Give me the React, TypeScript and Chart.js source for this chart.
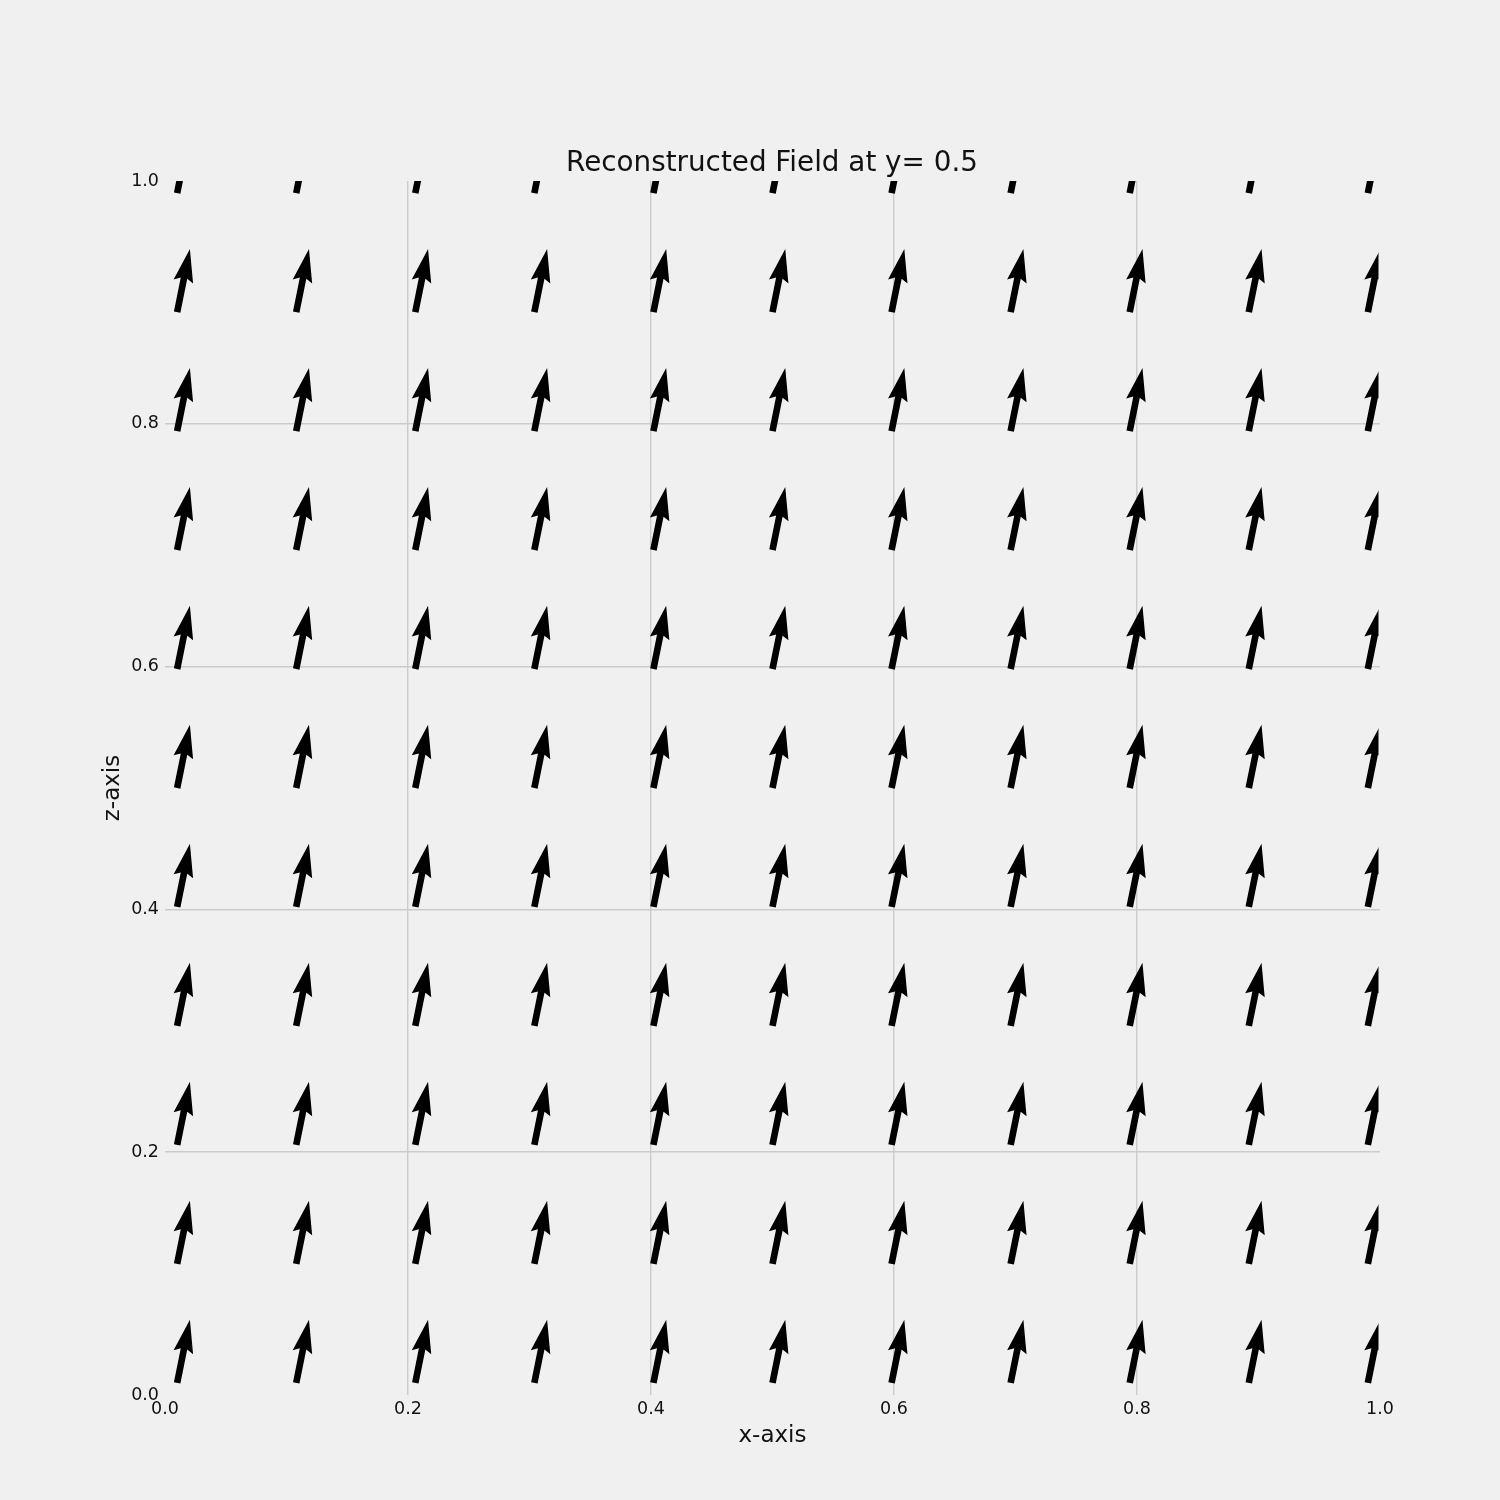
import React, { useEffect, useRef } from "react";
import { Chart, registerables } from "chart.js";

Chart.register(...registerables);

// Grid positions (tails of the arrows)
const xGrid = [0.01, 0.108, 0.206, 0.304, 0.402, 0.5, 0.598, 0.696, 0.794, 0.892, 0.99];
const zGrid = [0.01, 0.108, 0.206, 0.304, 0.402, 0.5, 0.598, 0.696, 0.794, 0.892, 0.99];

// Field components (rows = z, columns = x), in data units
const uField = [
  [0.0105, 0.0105, 0.0105, 0.0105, 0.0105, 0.0105, 0.0105, 0.0105, 0.0105, 0.0105, 0.0105],
  [0.0105, 0.0105, 0.0105, 0.0105, 0.0105, 0.0105, 0.0105, 0.0105, 0.0105, 0.0105, 0.0105],
  [0.0105, 0.0105, 0.0105, 0.0105, 0.0105, 0.0105, 0.0105, 0.0105, 0.0105, 0.0105, 0.0105],
  [0.0105, 0.0105, 0.0105, 0.0105, 0.0105, 0.0105, 0.0105, 0.0105, 0.0105, 0.0105, 0.0105],
  [0.0105, 0.0105, 0.0105, 0.0105, 0.0105, 0.0105, 0.0105, 0.0105, 0.0105, 0.0105, 0.0105],
  [0.0105, 0.0105, 0.0105, 0.0105, 0.0105, 0.0105, 0.0105, 0.0105, 0.0105, 0.0105, 0.0105],
  [0.0105, 0.0105, 0.0105, 0.0105, 0.0105, 0.0105, 0.0105, 0.0105, 0.0105, 0.0105, 0.0105],
  [0.0105, 0.0105, 0.0105, 0.0105, 0.0105, 0.0105, 0.0105, 0.0105, 0.0105, 0.0105, 0.0105],
  [0.0105, 0.0105, 0.0105, 0.0105, 0.0105, 0.0105, 0.0105, 0.0105, 0.0105, 0.0105, 0.0105],
  [0.0105, 0.0105, 0.0105, 0.0105, 0.0105, 0.0105, 0.0105, 0.0105, 0.0105, 0.0105, 0.0105],
  [0.0105, 0.0105, 0.0105, 0.0105, 0.0105, 0.0105, 0.0105, 0.0105, 0.0105, 0.0105, 0.0105],
];
const wField = [
  [0.052, 0.052, 0.052, 0.052, 0.052, 0.052, 0.052, 0.052, 0.052, 0.052, 0.052],
  [0.052, 0.052, 0.052, 0.052, 0.052, 0.052, 0.052, 0.052, 0.052, 0.052, 0.052],
  [0.052, 0.052, 0.052, 0.052, 0.052, 0.052, 0.052, 0.052, 0.052, 0.052, 0.052],
  [0.052, 0.052, 0.052, 0.052, 0.052, 0.052, 0.052, 0.052, 0.052, 0.052, 0.052],
  [0.052, 0.052, 0.052, 0.052, 0.052, 0.052, 0.052, 0.052, 0.052, 0.052, 0.052],
  [0.052, 0.052, 0.052, 0.052, 0.052, 0.052, 0.052, 0.052, 0.052, 0.052, 0.052],
  [0.052, 0.052, 0.052, 0.052, 0.052, 0.052, 0.052, 0.052, 0.052, 0.052, 0.052],
  [0.052, 0.052, 0.052, 0.052, 0.052, 0.052, 0.052, 0.052, 0.052, 0.052, 0.052],
  [0.052, 0.052, 0.052, 0.052, 0.052, 0.052, 0.052, 0.052, 0.052, 0.052, 0.052],
  [0.052, 0.052, 0.052, 0.052, 0.052, 0.052, 0.052, 0.052, 0.052, 0.052, 0.052],
  [0.052, 0.052, 0.052, 0.052, 0.052, 0.052, 0.052, 0.052, 0.052, 0.052, 0.052],
];

const xTicks = [0, 0.2, 0.4, 0.6, 0.8, 1.0];
const zTicks = [0, 0.2, 0.4, 0.6, 0.8, 1.0];

const titleText = "Reconstructed Field at y= 0.5";
const xLabel = "x-axis";
const zLabel = "z-axis";

const FONT = "'DejaVu Sans', 'Liberation Sans', sans-serif";
const TEXT = "#111111";
const GRID = "#cbcbcb";
const BG = "#f0f0f0";

type Vec = { x: number; y: number; u: number; w: number };

const quiverPlugin = {
  id: "quiver",
  afterDatasetsDraw(chart: any) {
    const { ctx, chartArea, scales } = chart;
    const xs = scales.x;
    const ys = scales.y;
    const data: Vec[] = chart.data.datasets[0].data;
    const shaft = (0.06 * (chartArea.right - chartArea.left)) / 11;
    const headW = 3 * shaft;
    const headL = 5 * shaft;
    const headAxL = 4.5 * shaft;
    ctx.save();
    ctx.beginPath();
    ctx.rect(chartArea.left, chartArea.top, chartArea.right - chartArea.left - 1.5, chartArea.bottom - chartArea.top);
    ctx.clip();
    ctx.fillStyle = "#000000";
    for (const p of data) {
      const x0 = xs.getPixelForValue(p.x);
      const y0 = ys.getPixelForValue(p.y);
      const x1 = xs.getPixelForValue(p.x + p.u);
      const y1 = ys.getPixelForValue(p.y + p.w);
      const dx = x1 - x0;
      const dy = y1 - y0;
      const L = Math.hypot(dx, dy);
      if (L === 0) continue;
      const ax = dx / L;
      const ay = dy / L;
      const nx = -ay;
      const ny = ax;
      const pt = (s: number, t: number): [number, number] => [x0 + ax * s + nx * t, y0 + ay * s + ny * t];
      const pts = [
        pt(0, -shaft / 2),
        pt(L - headAxL, -shaft / 2),
        pt(L - headL, -headW / 2),
        pt(L, 0),
        pt(L - headL, headW / 2),
        pt(L - headAxL, shaft / 2),
        pt(0, shaft / 2),
      ];
      ctx.beginPath();
      ctx.moveTo(pts[0][0], pts[0][1]);
      for (let i = 1; i < pts.length; i++) ctx.lineTo(pts[i][0], pts[i][1]);
      ctx.closePath();
      ctx.fill();
    }
    ctx.restore();
  },
};

const gridColor = (c: any) => {
  const v = c.tick ? c.tick.value : null;
  if (v === 0 || v === 1) return "rgba(0,0,0,0)";
  return GRID;
};

export default function App() {
  const ref = useRef<HTMLCanvasElement | null>(null);

  useEffect(() => {
    document.body.style.margin = "0";
    document.body.style.background = BG;
    const points: Vec[] = [];
    zGrid.forEach((z, j) => {
      xGrid.forEach((x, i) => {
        points.push({ x, y: z, u: uField[j][i], w: wField[j][i] });
      });
    });

    const chart = new Chart(ref.current as HTMLCanvasElement, {
      type: "scatter",
      data: {
        datasets: [
          {
            label: "field",
            data: points as any,
            pointRadius: 0,
            pointHoverRadius: 0,
            showLine: false,
          },
        ],
      },
      options: {
        animation: false,
        responsive: false,
        devicePixelRatio: 1,
        events: [],
        layout: { padding: { left: 44, right: 0, top: 0, bottom: 0 } },
        plugins: {
          legend: { display: false },
          tooltip: { enabled: false },
          title: {
            display: true,
            text: titleText,
            color: TEXT,
            font: { family: FONT, size: 27.8, weight: "normal" as any },
            padding: { top: 147, bottom: 0.6 },
          },
        },
        scales: {
          x: {
            type: "linear",
            position: "bottom",
            min: 0,
            max: 1,
            afterFit: (s: any) => {
              s.height = 105;
            },
            afterBuildTicks: (s: any) => {
              s.ticks = xTicks.map((v) => ({ value: v }));
            },
            ticks: {
              color: TEXT,
              font: { family: FONT, size: 17.5 },
              padding: 4,
              maxRotation: 0,
              autoSkip: false,
              callback: (v: any) => Number(v).toFixed(1),
            },
            grid: { color: gridColor, lineWidth: 1.4, drawTicks: false },
            border: { display: false },
            title: {
              display: true,
              text: xLabel,
              color: TEXT,
              font: { family: FONT, size: 23 },
              padding: { top: 0, bottom: 50.5 },
            },
          },
          y: {
            type: "linear",
            position: "left",
            min: 0,
            max: 1,
            afterFit: (s: any) => {
              s.width = 121;
            },
            afterBuildTicks: (s: any) => {
              s.ticks = zTicks.map((v) => ({ value: v }));
            },
            ticks: {
              color: TEXT,
              font: { family: FONT, size: 17.5 },
              padding: 6,
              autoSkip: false,
              callback: (v: any) => Number(v).toFixed(1),
            },
            grid: { color: gridColor, lineWidth: 1.4, drawTicks: false },
            border: { display: false },
            title: {
              display: true,
              text: zLabel,
              color: TEXT,
              font: { family: FONT, size: 23 },
              padding: { top: 55.2, bottom: 0 },
            },
          },
          yRight: {
            type: "linear",
            position: "right",
            display: true,
            afterFit: (s: any) => {
              s.width = 120;
            },
            ticks: { display: false },
            grid: { display: false, drawTicks: false },
            border: { display: false },
          },
        },
      },
      plugins: [quiverPlugin],
    });
    return () => chart.destroy();
  }, []);

  return (
    <div style={{ position: "fixed", left: 0, top: 0, width: 1500, height: 1500, background: BG }}>
      <canvas ref={ref} width={1500} height={1500} style={{ display: "block", width: 1500, height: 1500 }} />
    </div>
  );
}
